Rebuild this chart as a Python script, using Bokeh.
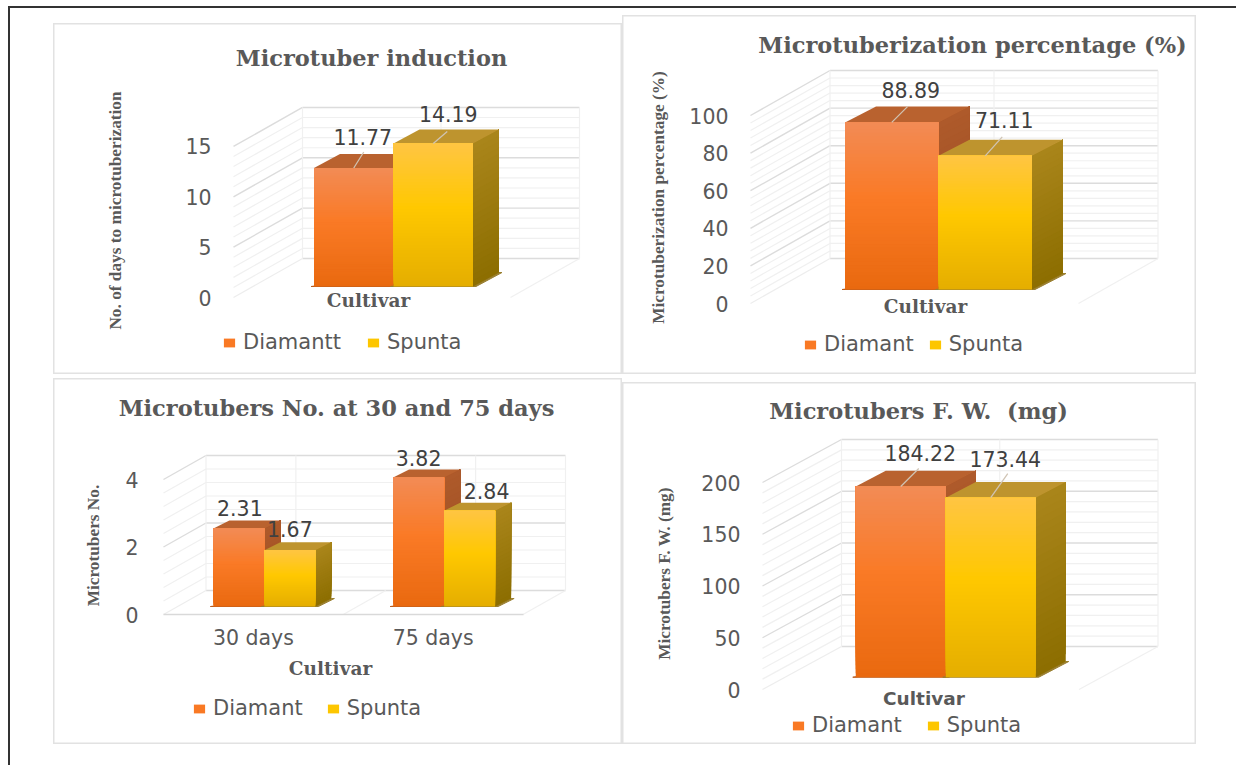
from math import pi

from bokeh.core.properties import value
from bokeh.embed import file_html
from bokeh.layouts import column, row
from bokeh.models import (ColumnDataSource, FixedTicker, Label, Legend,
                          LegendItem, Range1d)
from bokeh.plotting import figure
from bokeh.resources import INLINE

# ---- chart values ----------------------------------------------------------
CULTIVAR_NAMES = ["Diamant", "Spunta"]
INDUCTION_NAMES = ["Diamantt", "Spunta"]

INDUCTION_DIAMANT = [11.77]
INDUCTION_SPUNTA = [14.19]
PERCENT_DIAMANT = [88.89]
PERCENT_SPUNTA = [71.11]
NUMBER_DIAMANT = [2.31, 3.82]
NUMBER_SPUNTA = [1.67, 2.84]
WEIGHT_DIAMANT = [184.22]
WEIGHT_SPUNTA = [173.44]

NUMBER_DAYS = ["30 days", "75 days"]

INDUCTION_TICKS = [0, 5, 10, 15]
PERCENT_TICKS = [0, 20, 40, 60, 80, 100]
NUMBER_TICKS = [0, 2, 4]
WEIGHT_TICKS = [0, 50, 100, 150, 200]

# ---- styling ---------------------------------------------------------------
TEXT = "#595959"
SANS = "DejaVu Sans"
SERIF = "DejaVu Serif"
NARROW_SERIF = "Liberation Serif"
SANS_SIZE = "20.5px"

ORANGE = dict(front=[(0.0, "#E9690F"), (0.55, "#FA7A26"), (1.0, "#F28B55")],
              side=("#994C1E", "#AE5A2B"), top="#B9622F", base="#B85C1E")
YELLOW = dict(front=[(0.0, "#E4AE00"), (0.55, "#FFC800"), (1.0, "#FFC543")],
              side=("#8C6E00", "#AA851B"), top="#BE942E", base="#9A7F30")
SLICES = 48


def mix(stops, t):
    """Colour at position t along a list of (position, hex) gradient stops."""
    for (t0, c0), (t1, c1) in zip(stops, stops[1:]):
        if t <= t1:
            f = (t - t0) / (t1 - t0)
            a = [int(c0[i:i + 2], 16) for i in (1, 3, 5)]
            b = [int(c1[i:i + 2], 16) for i in (1, 3, 5)]
            return "#%02X%02X%02X" % tuple(round(u + (v - u) * f) for u, v in zip(a, b))
    return stops[-1][1]


def panel(box, floor, wall, bars, categories, series, names, ticks, minors,
          standoff, title, title_at, ytitle, ytitle_at, xtitle, xtitle_at, legend,
          captions, leaders, xtitle_font=SERIF, show_categories=False):
    left, top, right, bottom = box
    x0, y0, x1, ppu = floor
    wall_dx, wall_dy = wall
    bar_w, bar_dx, bar_dy, base_dx, base_dy = bars
    n = len(categories)
    ppx = (x1 - x0) / n

    def dx(px):
        return px / ppx

    def dy(px):
        return px / ppu

    def at_x(px):
        return (px - x0) / ppx

    def at_y(px):
        return (y0 - px) / ppu

    p = figure(width=right - left, height=bottom - top, output_backend="svg",
               toolbar_location=None, min_border=0,
               x_range=Range1d(at_x(left), at_x(right)),
               y_range=Range1d(at_y(bottom), at_y(top)),
               background_fill_color="white", border_fill_color="white",
               outline_line_color="#E2E2E2", outline_line_width=2)
    p.grid.visible = False

    # Value axis, sitting on the front edge of the side wall.
    ax = p.yaxis[0]
    ax.fixed_location = 0
    ax.ticker = FixedTicker(ticks=ticks)
    ax.axis_line_color = None
    ax.major_tick_line_color = None
    ax.minor_tick_line_color = None
    ax.major_label_standoff = standoff
    ax.major_label_text_font = SANS
    ax.major_label_text_font_size = SANS_SIZE
    ax.major_label_text_color = TEXT

    # Category axis, only labelled where there is more than one group.
    cat = p.xaxis[0]
    cat.visible = show_categories
    if show_categories:
        cat.fixed_location = 0
        cat.bounds = (0, n)
        positions = [i + 0.5 for i in range(n)]
        cat.ticker = FixedTicker(ticks=positions)
        cat.major_label_overrides = dict(zip(positions, categories))
        cat.axis_line_color = "#D9D9D9"
        cat.axis_line_width = 1.5
        cat.major_tick_line_color = None
        cat.minor_tick_line_color = None
        cat.major_label_standoff = 5
        cat.major_label_text_font = SANS
        cat.major_label_text_font_size = SANS_SIZE
        cat.major_label_text_color = TEXT

    # Back wall and side wall gridlines in oblique projection.
    back_x, back_y = dx(wall_dx), dy(wall_dy)
    step = (ticks[1] - ticks[0]) / minors
    minor_values = [ticks[0] + k * step for k in range((len(ticks) - 1) * minors + 1)
                    if k % minors]
    for vals, color, width in ((minor_values, "#F0F0F0", 1.2), (ticks, "#DCDCDC", 1.4)):
        p.segment(x0=[back_x] * len(vals), x1=[n + back_x] * len(vals),
                  y0=[v + back_y for v in vals], y1=[v + back_y for v in vals],
                  line_color=color, line_width=width)
        side_vals = [v for v in vals if v != ticks[0]]
        p.segment(x0=[0] * len(side_vals), x1=[back_x] * len(side_vals),
                  y0=side_vals, y1=[v + back_y for v in side_vals],
                  line_color=color, line_width=width)
    p.segment(x0=[0], x1=[back_x], y0=[0], y1=[back_y], line_color="#EDEDED", line_width=1.2)
    top_tick = ticks[-1]
    uprights = [back_x, n + back_x] + [i + 0.5 + back_x for i in range(n)]
    p.segment(x0=uprights, x1=uprights, y0=[back_y] * len(uprights),
              y1=[top_tick + back_y] * len(uprights), line_color="#F0F0F0", line_width=1.2)
    floors = list(range(1, n + 1))
    p.segment(x0=floors, x1=[f + back_x for f in floors], y0=[0] * n,
              y1=[back_y] * n, line_color="#F0F0F0", line_width=1.2)

    # Bars: every cuboid is built from its value. Gradient slices overlap
    # upward from their lower edge so that no seams show between them.
    w = dx(bar_w)
    lift = dy(base_dy)
    depth_x, depth_y = dx(bar_dx), dy(bar_dy)
    swatches = []
    cap_x, cap_y, cap_text, cap_dx, cap_dy = [], [], [], [], []
    lead_x0, lead_x1, lead_y0, lead_y1 = [], [], [], []
    for g in range(n):
        centre = g + 0.5 + dx(base_dx)
        for s, vals in enumerate(series):
            style = ORANGE if s == 0 else YELLOW
            val = vals[g]
            a = centre + (s - 1) * w
            b = a + w
            floor_y = lift
            ceil_y = lift + val
            pad = dx(3)
            p.patch([a - pad, b + pad, b + depth_x + pad, b + depth_x],
                    [floor_y, floor_y, floor_y + depth_y, floor_y + depth_y],
                    fill_color=style["base"], line_color=style["base"], line_width=1)
            xs, ys, cs = [], [], []
            for k in range(24):
                u0 = k / 24
                xs.append([b, b + depth_x, b + depth_x, b])
                ys.append([floor_y + val * u0, floor_y + val * u0 + depth_y,
                           ceil_y + depth_y, ceil_y])
                cs.append(mix([(0.0, style["side"][0]), (1.0, style["side"][1])], u0 + 0.5 / 24))
            p.patches(xs, ys, fill_color=cs, line_color=None)
            p.patch([a, b, b + depth_x, a + depth_x],
                    [ceil_y, ceil_y, ceil_y + depth_y, ceil_y + depth_y],
                    fill_color=style["top"], line_color=None)
            fracs = [k / SLICES for k in range(SLICES)]
            source = ColumnDataSource(dict(
                x=[(a + b) / 2] * SLICES,
                bottom=[floor_y + val * f for f in fracs],
                top=[ceil_y] * SLICES,
                color=[mix(style["front"], f + 0.5 / SLICES) for f in fracs]))
            r = p.vbar(x="x", bottom="bottom", top="top", width=w, source=source,
                       fill_color="color", line_color=None)
            if g == 0:
                swatches.append(r)
            offset_x, offset_y = captions[g * len(series) + s]
            cap_x.append((a + b) / 2)
            cap_y.append(ceil_y)
            cap_text.append("%.2f" % val)
            cap_dx.append(offset_x)
            cap_dy.append(offset_y)
            tip = leaders[g * len(series) + s] if leaders else None
            if tip:
                lead_x0.append((a + b) / 2)
                lead_x1.append((a + b) / 2 + dx(tip[0]))
                lead_y0.append(ceil_y)
                lead_y1.append(ceil_y + dy(tip[1]))

    if lead_x0:
        p.segment(lead_x0, lead_y0, lead_x1, lead_y1, line_color="#D0C4B4", line_width=1.3)
    p.text(x=cap_x, y=cap_y, text=cap_text, x_offset=cap_dx, y_offset=cap_dy,
           text_align="center", text_baseline="middle", text_color="#404040",
           text_font=value(SANS), text_font_size=SANS_SIZE)

    # Titles.
    p.add_layout(Label(x=at_x(title_at[0]), y=at_y(title_at[1]), text=title,
                       text_align="center", text_baseline="middle", text_color=TEXT,
                       text_font=SERIF, text_font_style="bold", text_font_size="22.5px"))
    p.add_layout(Label(x=at_x(ytitle_at[0]), y=at_y(ytitle_at[1]), text=ytitle, angle=pi / 2,
                       text_align="center", text_baseline="middle", text_color=TEXT,
                       text_font=NARROW_SERIF, text_font_style="bold", text_font_size="17.3px"))
    p.add_layout(Label(x=at_x(xtitle_at[0]), y=at_y(xtitle_at[1]), text=xtitle,
                       text_align="center", text_baseline="middle", text_color=TEXT,
                       text_font=xtitle_font, text_font_style="bold", text_font_size="18.5px"))

    # Legend under the plot.
    swatch_x, legend_y, gap = legend
    mid = SLICES // 2
    items = [LegendItem(label=value(name), renderers=[r], index=mid)
             for name, r in zip(names, swatches)]
    p.add_layout(Legend(items=items, orientation="horizontal",
                        location=(swatch_x - left, bottom - legend_y - 12),
                        glyph_width=14, glyph_height=11, label_height=20, label_standoff=7,
                        spacing=gap, padding=0, margin=0, border_line_color=None,
                        background_fill_alpha=0, label_text_font=SANS,
                        label_text_font_size="21px", label_text_color=TEXT,
                        label_text_baseline="middle"))
    return p


p1 = panel(box=(53, 23, 622, 374), floor=(233, 297, 510, 10.07), wall=(69, 39),
           bars=(79.5, 26, 14, 21.5, 11), categories=[""],
           series=[INDUCTION_DIAMANT, INDUCTION_SPUNTA], names=INDUCTION_NAMES,
           ticks=INDUCTION_TICKS, minors=5, standoff=16,
           title="Microtuber induction", title_at=(371, 57),
           ytitle="No. of days to microtuberization", ytitle_at=(115, 210),
           xtitle="Cultivar", xtitle_at=(368, 300), legend=(222, 342, 25),
           captions=[(9, -31), (15, -30)], leaders=[(10, 16), (14, 12)])

p2 = panel(box=(622, 15, 1196, 374), floor=(750, 303, 1078, 1.88), wall=(79.5, 45),
           bars=(93.5, 31, 16, 24, 14), categories=[""],
           series=[PERCENT_DIAMANT, PERCENT_SPUNTA], names=CULTIVAR_NAMES,
           ticks=PERCENT_TICKS, minors=5, standoff=16,
           title="Microtuberization percentage (%)", title_at=(972, 44),
           ytitle="Microtuberization percentage (%)", ytitle_at=(658, 197),
           xtitle="Cultivar", xtitle_at=(925, 306), legend=(803, 344, 14),
           captions=[(19, -32), (19, -36)], leaders=[(16, 16), (17, 19)])

p3 = panel(box=(53, 378, 622, 744), floor=(163, 614, 522.5, 33.75), wall=(42.5, 24),
           bars=(51, 16, 8, 11, 8), categories=NUMBER_DAYS,
           series=[NUMBER_DIAMANT, NUMBER_SPUNTA], names=CULTIVAR_NAMES,
           ticks=NUMBER_TICKS, minors=5, standoff=19,
           title="Microtubers No. at 30 and 75 days", title_at=(336, 407),
           ytitle="Microtubers No.", ytitle_at=(93, 545),
           xtitle="Cultivar", xtitle_at=(330, 668), legend=(192, 708, 23),
           captions=[(1, -21), (0, -21), (0, -20), (17, -20)], leaders=None,
           show_categories=True)

p4 = panel(box=(622, 382, 1196, 744), floor=(762, 689, 1078.5, 1.035), wall=(79, 43),
           bars=(90, 30, 15.7, 25, 12.3), categories=[""],
           series=[WEIGHT_DIAMANT, WEIGHT_SPUNTA], names=CULTIVAR_NAMES,
           ticks=WEIGHT_TICKS, minors=5, standoff=16,
           title="Microtubers F. W.\u00a0 (mg)", title_at=(918, 410),
           ytitle="Microtubers F. W. (mg)", ytitle_at=(663.5, 573),
           xtitle="Cultivar", xtitle_at=(923.5, 698), legend=(791, 725, 24),
           captions=[(19.5, -34), (14.5, -39)], leaders=[(18, 18), (17, 24)],
           xtitle_font=SANS)

# The page frame is a ruled line along the top and left edges.
FRAME_LEFT, FRAME_TOP, RULE = 8, 6, 2
inner_x = FRAME_LEFT + RULE
inner_y = FRAME_TOP + RULE

p1.margin = (23 - inner_y, 0, 0, 53 - inner_x)
p2.margin = (15 - inner_y, 0, 0, 0)
p3.margin = (4, 0, 0, 53 - inner_x)
p4.margin = (8, 0, 0, 0)

page = column(row(p1, p2, spacing=0), row(p3, p4, spacing=0), spacing=0,
              width=1236 - FRAME_LEFT, height=765 - FRAME_TOP,
              margin=(FRAME_TOP, 0, 0, FRAME_LEFT),
              styles={"border-top": "%dpx solid #333333" % RULE,
                      "border-left": "%dpx solid #333333" % RULE})

open("out.html", "w").write(file_html(page, INLINE))
